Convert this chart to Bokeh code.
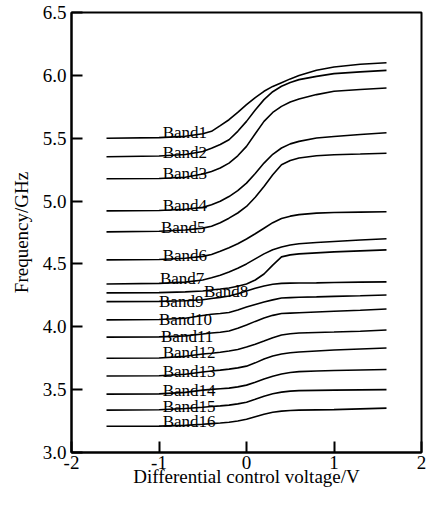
from bokeh.plotting import figure
from bokeh.models import Range1d, FixedTicker
from bokeh.core.properties import value
from bokeh.embed import file_html
from bokeh.resources import INLINE

# ---- data ----
voltage = [-1.6, -1.0, -0.7, -0.5, -0.4, -0.3, -0.2, -0.1, 0.0, 0.1, 0.2, 0.3, 0.4, 0.5, 0.6, 0.8, 1.0, 1.3, 1.6]

band1 = [5.50, 5.505, 5.515, 5.535, 5.555, 5.60, 5.647, 5.705, 5.767, 5.823, 5.873, 5.912, 5.942, 5.972, 5.998, 6.04, 6.067, 6.088, 6.10]
band2 = [5.353, 5.358, 5.37, 5.395, 5.42, 5.45, 5.488, 5.555, 5.634, 5.725, 5.807, 5.87, 5.913, 5.943, 5.966, 5.992, 6.014, 6.028, 6.04]
band3 = [5.177, 5.18, 5.19, 5.215, 5.235, 5.263, 5.302, 5.36, 5.435, 5.535, 5.634, 5.705, 5.753, 5.788, 5.812, 5.847, 5.873, 5.888, 5.90]
band4 = [4.922, 4.925, 4.935, 4.95, 4.97, 4.998, 5.036, 5.083, 5.143, 5.22, 5.302, 5.372, 5.422, 5.455, 5.475, 5.502, 5.514, 5.53, 5.544]
band5 = [4.755, 4.76, 4.77, 4.785, 4.80, 4.828, 4.864, 4.905, 4.957, 5.03, 5.116, 5.21, 5.289, 5.322, 5.342, 5.361, 5.369, 5.374, 5.38]
band6 = [4.532, 4.535, 4.545, 4.56, 4.575, 4.60, 4.628, 4.66, 4.698, 4.74, 4.784, 4.828, 4.862, 4.88, 4.892, 4.904, 4.909, 4.912, 4.915]
band7 = [4.34, 4.345, 4.355, 4.372, 4.39, 4.41, 4.436, 4.465, 4.50, 4.54, 4.58, 4.613, 4.635, 4.65, 4.66, 4.671, 4.679, 4.69, 4.70]
band8 = [4.27, 4.272, 4.278, 4.285, 4.293, 4.30, 4.309, 4.322, 4.341, 4.372, 4.42, 4.49, 4.556, 4.572, 4.58, 4.588, 4.596, 4.604, 4.612]
band9 = [4.20, 4.202, 4.207, 4.215, 4.225, 4.234, 4.245, 4.263, 4.285, 4.307, 4.325, 4.338, 4.345, 4.347, 4.348, 4.349, 4.352, 4.355, 4.357]
band10 = [4.055, 4.058, 4.068, 4.09, 4.10, 4.106, 4.114, 4.134, 4.157, 4.178, 4.197, 4.214, 4.229, 4.232, 4.235, 4.238, 4.242, 4.247, 4.253]
band11 = [3.918, 3.92, 3.928, 3.942, 3.95, 3.957, 3.966, 3.988, 4.014, 4.043, 4.07, 4.091, 4.106, 4.109, 4.112, 4.118, 4.124, 4.132, 4.141]
band12 = [3.75, 3.752, 3.765, 3.783, 3.79, 3.798, 3.807, 3.82, 3.839, 3.861, 3.886, 3.912, 3.934, 3.944, 3.95, 3.955, 3.958, 3.965, 3.974]
band13 = [3.608, 3.61, 3.622, 3.64, 3.648, 3.655, 3.663, 3.673, 3.687, 3.713, 3.743, 3.767, 3.783, 3.793, 3.799, 3.807, 3.815, 3.823, 3.831]
band14 = [3.464, 3.466, 3.478, 3.496, 3.502, 3.507, 3.512, 3.522, 3.536, 3.558, 3.584, 3.607, 3.624, 3.636, 3.643, 3.648, 3.652, 3.656, 3.66]
band15 = [3.337, 3.34, 3.35, 3.36, 3.366, 3.371, 3.377, 3.387, 3.40, 3.423, 3.448, 3.467, 3.48, 3.488, 3.492, 3.494, 3.496, 3.498, 3.50]
band16 = [3.209, 3.21, 3.216, 3.225, 3.23, 3.235, 3.241, 3.251, 3.265, 3.285, 3.305, 3.32, 3.329, 3.334, 3.337, 3.339, 3.341, 3.347, 3.353]

bands = [band1, band2, band3, band4, band5, band6, band7, band8,
         band9, band10, band11, band12, band13, band14, band15, band16]

band_names = ["Band1", "Band2", "Band3", "Band4", "Band5", "Band6", "Band7", "Band8",
              "Band9", "Band10", "Band11", "Band12", "Band13", "Band14", "Band15", "Band16"]
label_x = [-0.958, -0.958, -0.958, -0.958, -0.977, -0.958, -0.989, -0.486,
           -1.0, -1.0, -0.977, -0.958, -0.958, -0.958, -0.958, -0.958]
label_y = [5.546, 5.387, 5.223, 4.965, 4.787, 4.566, 4.386, 4.279,
           4.20, 4.06, 3.92, 3.793, 3.642, 3.49, 3.363, 3.243]

x_ticks = [-2, -1, 0, 1, 2]
x_tick_labels = ["-2", "-1", "0", "1", "2"]
y_ticks = [3.0, 3.5, 4.0, 4.5, 5.0, 5.5, 6.0, 6.5]
y_tick_labels = ["3.0", "3.5", "4.0", "4.5", "5.0", "5.5", "6.0", "6.5"]

FONT = "Liberation Serif"

p = figure(width=426, height=498, x_range=Range1d(-2, 2), y_range=Range1d(3.0, 6.5),
           output_backend="svg", toolbar_location=None,
           min_border_left=71, min_border_right=5, min_border_top=12, min_border_bottom=46)

p.xgrid.grid_line_color = None
p.ygrid.grid_line_color = None
p.outline_line_color = "black"
p.outline_line_width = 2
p.outline_line_alpha = 1.0
p.background_fill_color = "white"
p.border_fill_color = "white"

for b in bands:
    p.line(voltage, b, line_color="black", line_width=1.6)

p.text(x=label_x, y=label_y, text=band_names, text_font=value(FONT),
       text_font_size="17px", text_baseline="alphabetic", text_align="left",
       text_color="black")

for ax in (p.xaxis[0], p.yaxis[0]):
    ax.axis_line_width = 2
    ax.axis_line_color = "black"
    ax.major_tick_out = 0
    ax.major_tick_in = 11
    ax.major_tick_line_width = 2
    ax.major_tick_line_color = "black"
    ax.minor_tick_line_color = None
    ax.major_label_text_font = FONT
    ax.major_label_text_font_size = "19px"
    ax.major_label_text_color = "black"
    ax.axis_label_text_font = FONT
    ax.axis_label_text_font_size = "19px"
    ax.axis_label_text_font_style = "normal"
    ax.axis_label_text_color = "black"

p.xaxis.ticker = FixedTicker(ticks=x_ticks)
p.xaxis.major_label_overrides = dict(zip(x_ticks, x_tick_labels))
p.yaxis.ticker = FixedTicker(ticks=y_ticks)
p.yaxis.major_label_overrides = dict(zip(y_ticks, y_tick_labels))

p.xaxis.axis_label = "Differential control voltage/V"
p.yaxis.axis_label = "Frequency/GHz"
p.xaxis.major_label_standoff = 3
p.xaxis.axis_label_standoff = -6
p.yaxis.major_label_standoff = 5
p.yaxis.axis_label_standoff = 8

open("out.html", "w").write(file_html(p, INLINE))
